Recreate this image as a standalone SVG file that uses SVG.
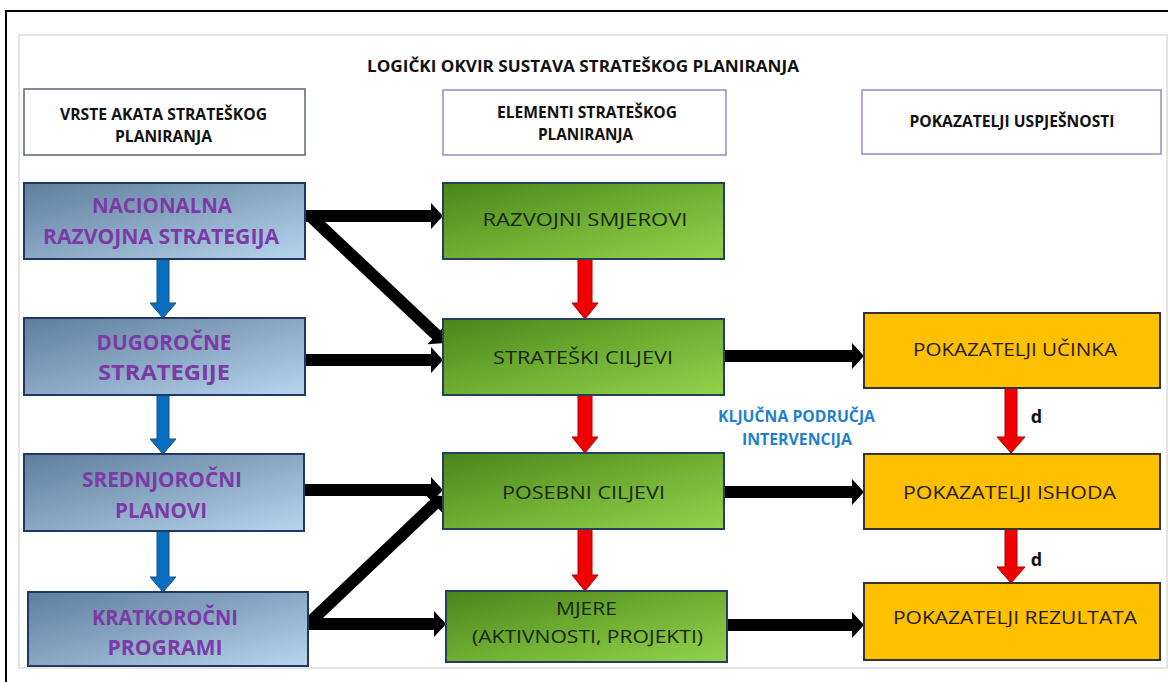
<svg xmlns="http://www.w3.org/2000/svg" width="1168" height="682" viewBox="0 0 1168 682">
<defs>
<linearGradient id="gBlue" x1="0" y1="0" x2="1" y2="1">
<stop offset="0" stop-color="#5f7e9c"/>
<stop offset="0.5" stop-color="#8aa8c4"/>
<stop offset="1" stop-color="#b9d5ee"/>
</linearGradient>
<linearGradient id="gGreen" x1="0" y1="0" x2="1" y2="1">
<stop offset="0" stop-color="#4a851b"/>
<stop offset="0.5" stop-color="#6fae32"/>
<stop offset="1" stop-color="#93d34a"/>
</linearGradient>
<marker id="ah" viewBox="0 0 12 26" refX="2" refY="13" markerWidth="12" markerHeight="26" markerUnits="userSpaceOnUse" orient="auto">
<path d="M0,0 L12,13 L0,26 z" fill="#000"/>
</marker>
<style>
.hdr{fill:#fff;stroke-width:1.5}
.t{font-family:"Open Sans","Liberation Sans",sans-serif;text-anchor:middle}
.hb{font-weight:bold;font-size:16.5px;fill:#111}
.blue{fill:url(#gBlue);stroke:#1f3864;stroke-width:2}
.green{fill:url(#gGreen);stroke:#23405e;stroke-width:2}
.orange{fill:#ffc000;stroke:#333;stroke-width:2}
.bt{font-weight:bold;font-size:21px;fill:#7b3aa6}
.gt{font-size:18.5px;font-weight:500;fill:#1a260c}
.ot{font-size:19px;font-weight:500;fill:#261b00}
.kl{font-weight:bold;font-size:15.5px;fill:#1f7fd0}
.dd{font-weight:bold;font-size:18px;fill:#111}
.blk{stroke:#000;stroke-width:12;fill:none;marker-end:url(#ah)}
.ba{fill:#0a6fc2;stroke:#1f4e79;stroke-width:1}
.ra{fill:#f00000;stroke:#b00000;stroke-width:1}
</style>
</defs>
<rect x="6" y="11" width="1172" height="690" fill="#fff" stroke="#000" stroke-width="2"/>
<rect x="19" y="35" width="1148" height="633" fill="#fff" stroke="#dcdcdc" stroke-width="1.5"/>
<text class="t hb" x="583" y="72" font-size="16" textLength="432" lengthAdjust="spacingAndGlyphs">LOGIČKI OKVIR SUSTAVA STRATEŠKOG PLANIRANJA</text>

<g id="hdr1">
<rect class="hdr" x="24" y="89" width="281" height="66" stroke="#5a6878"/>
<text class="t hb" x="163.5" y="120" textLength="207" lengthAdjust="spacingAndGlyphs">VRSTE AKATA STRATEŠKOG</text>
<text class="t hb" x="163.5" y="142" textLength="97" lengthAdjust="spacingAndGlyphs">PLANIRANJA</text>
</g>
<g id="hdr2">
<rect class="hdr" x="443" y="90" width="283" height="65" stroke="#9a86c2"/>
<text class="t hb" x="587" y="118" textLength="180" lengthAdjust="spacingAndGlyphs">ELEMENTI STRATEŠKOG</text>
<text class="t hb" x="585.5" y="140" textLength="95" lengthAdjust="spacingAndGlyphs">PLANIRANJA</text>
</g>
<g id="hdr3">
<rect class="hdr" x="862" y="90" width="299" height="64" stroke="#9a86c2"/>
<text class="t hb" x="1012" y="127" textLength="205" lengthAdjust="spacingAndGlyphs">POKAZATELJI USPJEŠNOSTI</text>
</g>

<g id="connectors">
<polygon class="ba" points="157,259 169,259 169,303 176,303 163,318 150,303 157,303"/>
<polygon class="ba" points="157,395 169,395 169,439 176,439 163,454 150,439 157,439"/>
<polygon class="ba" points="157,531 169,531 169,577 176,577 163,592 150,577 157,577"/>
<polygon class="ra" points="578,259 592,259 592,303 598,303 585,319 572,303 578,303"/>
<polygon class="ra" points="578,395 592,395 592,437 598,437 585,453 572,437 578,437"/>
<polygon class="ra" points="578,529 592,529 592,575 598,575 585,591 572,575 578,575"/>
<polygon class="ra" points="1005,388 1017,388 1017,437 1025,437 1011,453 997,437 1005,437"/>
<polygon class="ra" points="1005,529 1017,529 1017,567 1025,567 1011,583 997,567 1005,567"/>
<line class="blk" x1="305" y1="216" x2="433" y2="216"/>
<line class="blk" x1="308" y1="214" x2="437.7" y2="336.1"/>
<line class="blk" x1="305" y1="360" x2="433" y2="360"/>
<line class="blk" x1="305" y1="490" x2="433" y2="490"/>
<line class="blk" x1="308" y1="624" x2="435.7" y2="502.9"/>
<line class="blk" x1="308" y1="624" x2="436" y2="624"/>
<line class="blk" x1="724" y1="356" x2="854" y2="356"/>
<line class="blk" x1="724" y1="492" x2="854" y2="492"/>
<line class="blk" x1="727" y1="625" x2="854" y2="625"/>
</g>

<g id="b1">
<rect class="blue" x="24" y="183" width="281" height="76"/>
<text class="t bt" x="162" y="213" textLength="140" lengthAdjust="spacingAndGlyphs">NACIONALNA</text>
<text class="t bt" x="161" y="244" textLength="236" lengthAdjust="spacingAndGlyphs">RAZVOJNA STRATEGIJA</text>
</g>
<g id="b2">
<rect class="blue" x="24" y="318" width="281" height="77"/>
<text class="t bt" x="164" y="350" textLength="135" lengthAdjust="spacingAndGlyphs">DUGOROČNE</text>
<text class="t bt" x="164" y="380" textLength="132" lengthAdjust="spacingAndGlyphs">STRATEGIJE</text>
</g>
<g id="b3">
<rect class="blue" x="24" y="454" width="280" height="77"/>
<text class="t bt" x="162" y="487" textLength="160" lengthAdjust="spacingAndGlyphs">SREDNJOROČNI</text>
<text class="t bt" x="161" y="518" textLength="92" lengthAdjust="spacingAndGlyphs">PLANOVI</text>
</g>
<g id="b4">
<rect class="blue" x="28" y="592" width="280" height="74"/>
<text class="t bt" x="165" y="625" textLength="146" lengthAdjust="spacingAndGlyphs">KRATKOROČNI</text>
<text class="t bt" x="165" y="655" textLength="115" lengthAdjust="spacingAndGlyphs">PROGRAMI</text>
</g>

<g id="g1">
<rect class="green" x="443" y="183" width="281" height="76"/>
<text class="t gt" x="585" y="226" textLength="205" lengthAdjust="spacingAndGlyphs">RAZVOJNI SMJEROVI</text>
</g>
<g id="g2">
<rect class="green" x="443" y="319" width="281" height="76"/>
<text class="t gt" x="583" y="364" textLength="180" lengthAdjust="spacingAndGlyphs">STRATEŠKI CILJEVI</text>
</g>
<g id="g3">
<rect class="green" x="443" y="453" width="281" height="76"/>
<text class="t gt" x="583.5" y="499" textLength="163" lengthAdjust="spacingAndGlyphs">POSEBNI CILJEVI</text>
</g>
<g id="g4">
<rect class="green" x="446" y="591" width="281" height="71"/>
<text class="t gt" x="586.5" y="615" textLength="61" lengthAdjust="spacingAndGlyphs">MJERE</text>
<text class="t gt" x="587.5" y="643" textLength="231" lengthAdjust="spacingAndGlyphs">(AKTIVNOSTI, PROJEKTI)</text>
</g>

<g id="o1">
<rect class="orange" x="864" y="313" width="296" height="75"/>
<text class="t ot" x="1015" y="356" textLength="204" lengthAdjust="spacingAndGlyphs">POKAZATELJI UČINKA</text>
</g>
<g id="o2">
<rect class="orange" x="864" y="454" width="296" height="75"/>
<text class="t ot" x="1009.5" y="499" textLength="213" lengthAdjust="spacingAndGlyphs">POKAZATELJI ISHODA</text>
</g>
<g id="o3">
<rect class="orange" x="864" y="583" width="296" height="77"/>
<text class="t ot" x="1015" y="624" textLength="244" lengthAdjust="spacingAndGlyphs">POKAZATELJI REZULTATA</text>
</g>

<g id="labels">
<text class="t kl" x="796.5" y="422" textLength="157" lengthAdjust="spacingAndGlyphs">KLJUČNA PODRUČJA</text>
<text class="t kl" x="797" y="445" textLength="110" lengthAdjust="spacingAndGlyphs">INTERVENCIJA</text>
<text class="t dd" x="1036.5" y="423">d</text>
<text class="t dd" x="1036.5" y="566">d</text>
</g>
</svg>
